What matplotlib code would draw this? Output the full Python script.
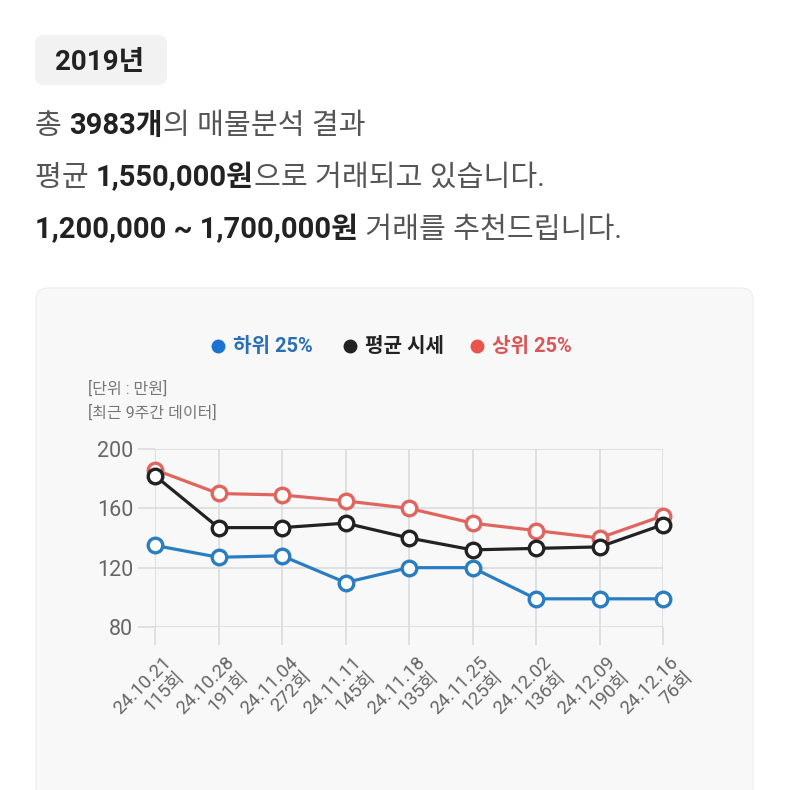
# 2019년 시세 차트 다시 그리기
import matplotlib.pyplot as plt
from matplotlib.patches import FancyBboxPatch
from matplotlib.transforms import ScaledTranslation

plt.rcParams['font.family'] = ['Roboto', 'Noto Sans CJK KR', 'DejaVu Sans']

# 데이터 (단위: 만원)
dates = ["24.10.21", "24.10.28", "24.11.04", "24.11.11", "24.11.18",
         "24.11.25", "24.12.02", "24.12.09", "24.12.16"]
counts = ["115회", "191회", "272회", "145회", "135회", "125회", "136회", "190회", "76회"]
low_25 = [135, 127, 128, 110, 120, 120, 99, 99, 99]
avg_price = [182, 147, 147, 150, 140, 132, 133, 134, 149]
high_25 = [186, 170, 169, 165, 160, 150, 145, 140, 155]
y_ticks = [80, 120, 160, 200]

blue = "#2a7dc0"
red = "#e0655f"
black = "#222222"

fig = plt.figure(figsize=(7.9, 7.9), dpi=100)
fig.patch.set_facecolor("white")

# 배경용 축 (픽셀 좌표)
bg = fig.add_axes([0, 0, 1, 1])
bg.set_xlim(0, 790)
bg.set_ylim(790, 0)
bg.axis("off")

# 연도 박스
bg.add_patch(FancyBboxPatch((35, 35), 132, 50, boxstyle="round,pad=0,rounding_size=9",
                            facecolor="#f2f2f2", edgecolor="none"))
bg.text(100, 70, "2019년", fontsize=20, fontweight="bold", color="#222222",
        ha="center", va="baseline")


# 굵은 글씨와 보통 글씨 섞어서 한 줄 쓰기
def rich_line(y, parts):
    prev = None
    for s, bold in parts:
        kw = dict(fontsize=21, color="#222222" if bold else "#555555",
                  fontweight="bold" if bold else "normal", va="baseline", ha="left")
        if prev is None:
            prev = bg.annotate(s, xy=(35, y), xycoords="data", **kw)
        else:
            prev = bg.annotate(s, xy=(1, y), xycoords=(prev, "data"), **kw)


rich_line(134, [("총 ", False), ("3983개", True), ("의 매물분석 결과", False)])
rich_line(186, [("평균 ", False), ("1,550,000원", True), ("으로 거래되고 있습니다.", False)])
rich_line(238, [("1,200,000 ~ 1,700,000원", True), (" 거래를 추천드립니다.", False)])

# 카드 배경
bg.add_patch(FancyBboxPatch((36, 288), 717, 520, boxstyle="round,pad=0,rounding_size=12",
                            facecolor="#f8f8f8", edgecolor="#efefef", lw=1))

# 범례
legend_items = [(218, "하위 25%", "#1a73d0", "#2a6fb8"),
                (350, "평균 시세", "#222222", "#222222"),
                (477, "상위 25%", "#e8534a", "#d95757")]
for x, label, dot_c, txt_c in legend_items:
    bg.plot(x, 346, "o", color=dot_c, markersize=9)
    bg.text(x + 15, 346, label, fontsize=14.5, fontweight="bold", color=txt_c,
            ha="left", va="center")

bg.text(88, 389, "[단위 : 만원]", fontsize=11.5, color="#777777", va="center")
bg.text(88, 413, "[최근 9주간 데이터]", fontsize=11.5, color="#777777", va="center")

# 차트
ax = fig.add_axes([155 / 790, (790 - 627) / 790, 508 / 790, 178 / 790])
ax.set_facecolor("none")
x = list(range(len(dates)))

for vals, c, z in [(high_25, red, 3), (avg_price, black, 4), (low_25, blue, 5)]:
    ax.plot(x, vals, color=c, lw=2.3, marker="o", markersize=10.5,
            markerfacecolor="white", markeredgecolor=c, markeredgewidth=2.4,
            zorder=z, clip_on=False)

ax.set_xlim(0, 8)
ax.set_ylim(80, 200)
ax.set_yticks(y_ticks)
ax.set_xticks(x)
ax.set_xticklabels([d + "\n" + c for d, c in zip(dates, counts)],
                   rotation=45, ha="right", va="center", rotation_mode="anchor",
                   multialignment="right", fontsize=13.5, color="#666666", linespacing=1.15)
ax.tick_params(axis="y", length=12, color="#dcdcdc", width=1.2, labelsize=15.5,
               labelcolor="#666666", pad=3.5)
ax.tick_params(axis="x", length=13, color="#dcdcdc", width=1.2, pad=0)
shift = ScaledTranslation(0.2, -0.22, fig.dpi_scale_trans)
for lab in ax.get_xticklabels():
    lab.set_transform(lab.get_transform() + shift)
ax.grid(True, color="#dcdcdc", lw=1.2)
for sp in ax.spines.values():
    sp.set_visible(False)

plt.savefig("out.png", dpi=100, facecolor="white")
